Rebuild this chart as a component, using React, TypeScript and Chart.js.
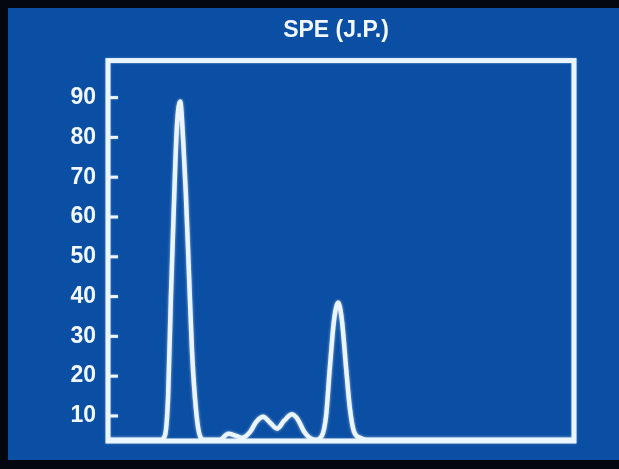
import React, { useEffect, useRef } from "react";
import { Chart, registerables } from "chart.js";

Chart.register(...registerables);

const titleText = "SPE (J.P.)";
const yTicks = [10, 20, 30, 40, 50, 60, 70, 80, 90];
const mobility = [
  0, 11.2, 12.2, 12.9, 13.5, 14.2, 14.8, 15.5, 16.1, 16.7, 17.4, 18.0, 18.7, 19.5, 20.6,
  24.0, 25.8, 27.5, 28.8, 30.5, 31.8, 33.3, 34.8, 36.3, 37.8, 39.5, 40.8, 42.1, 43.3,
  44.6, 45.9, 46.8, 47.6, 48.5, 49.4, 50.2, 51.1, 51.9, 52.8, 54.1, 55.4, 100,
];
const intensity = [
  4, 4, 5, 15, 40, 65, 83, 89, 80, 66, 45, 27, 14, 6, 4,
  4, 5.5, 5, 4.5, 6, 8.5, 9.8, 8.3, 6.8, 8.8, 10.4, 9, 6, 4.5,
  4, 5, 10, 22, 34, 38.5, 34, 22, 12, 6, 4.5, 4, 4,
];

const BG_BLUE = "#0a4fa4";
const LINE = "#eaf5ff";
const FONT = "'Liberation Sans', Arial, sans-serif";

export default function App() {
  const ref = useRef<HTMLCanvasElement>(null);

  useEffect(() => {
    if (!ref.current) return;
    const boxPlugin = {
      id: "boxPlugin",
      beforeDatasetsDraw(chart: any) {
        const { ctx } = chart;
        ctx.save();
        ctx.shadowColor = "rgba(255,255,255,0.6)";
        ctx.shadowBlur = 3;
      },
      afterDatasetsDraw(chart: any) {
        const { ctx, chartArea, scales } = chart;
        ctx.restore();
        ctx.save();
        ctx.strokeStyle = LINE;
        ctx.shadowColor = "rgba(255,255,255,0.4)";
        ctx.shadowBlur = 2;
        ctx.lineWidth = 5;
        ctx.strokeRect(
          chartArea.left,
          chartArea.top,
          chartArea.right - chartArea.left,
          chartArea.bottom - chartArea.top
        );
        ctx.lineWidth = 3;
        const y = scales.y;
        for (const v of yTicks) {
          const py = y.getPixelForValue(v);
          ctx.beginPath();
          ctx.moveTo(chartArea.left + 2, py);
          ctx.lineTo(chartArea.left + 10, py);
          ctx.stroke();
        }
        ctx.restore();
      },
    };

    const chart = new Chart(ref.current, {
      type: "line",
      data: {
        datasets: [
          {
            data: mobility.map((x, i) => ({ x, y: intensity[i] })),
            borderColor: LINE,
            borderWidth: 4.5,
            pointRadius: 0,
            cubicInterpolationMode: "monotone",
            fill: false,
          },
        ],
      },
      options: {
        responsive: false,
        animation: false,
        layout: { padding: { top: 0, left: 53, right: 0, bottom: 28 } },
        plugins: {
          legend: { display: false },
          tooltip: { enabled: false },
          title: {
            display: true,
            text: titleText,
            color: "#f2f8ff",
            font: { family: FONT, size: 23, weight: "bold" },
            padding: { top: 17, bottom: 16 },
          },
        },
        scales: {
          x: { type: "linear", min: 0, max: 100, display: false },
          y: {
            type: "linear",
            position: "left",
            min: 3.7,
            max: 99.3,
            afterBuildTicks: (s: any) => {
              s.ticks = yTicks.map((v) => ({ value: v }));
            },
            afterFit: (s: any) => {
              s.width = 55;
            },
            grid: { display: false, drawTicks: false },
            border: { display: false },
            ticks: {
              color: "#f2f8ff",
              padding: 12,
              font: { family: FONT, size: 23, weight: "bold" },
              callback: (v: any) => String(v),
            },
          },
          yRight: {
            type: "linear",
            position: "right",
            min: 3.7,
            max: 99.3,
            afterFit: (s: any) => {
              s.width = 45;
            },
            grid: { display: false, drawTicks: false },
            border: { display: false },
            ticks: { display: false },
          },
        },
      },
      plugins: [boxPlugin],
    });
    return () => chart.destroy();
  }, []);

  return (
    <div style={{ position: "fixed", left: 0, top: 0, width: 619, height: 469, background: "#04070d" }}>
      <div style={{ position: "absolute", left: 8, top: 8, width: 611, height: 452, background: BG_BLUE }} />
      <canvas ref={ref} width={619} height={469} style={{ position: "absolute", left: 0, top: 0, display: "block" }} />
    </div>
  );
}
